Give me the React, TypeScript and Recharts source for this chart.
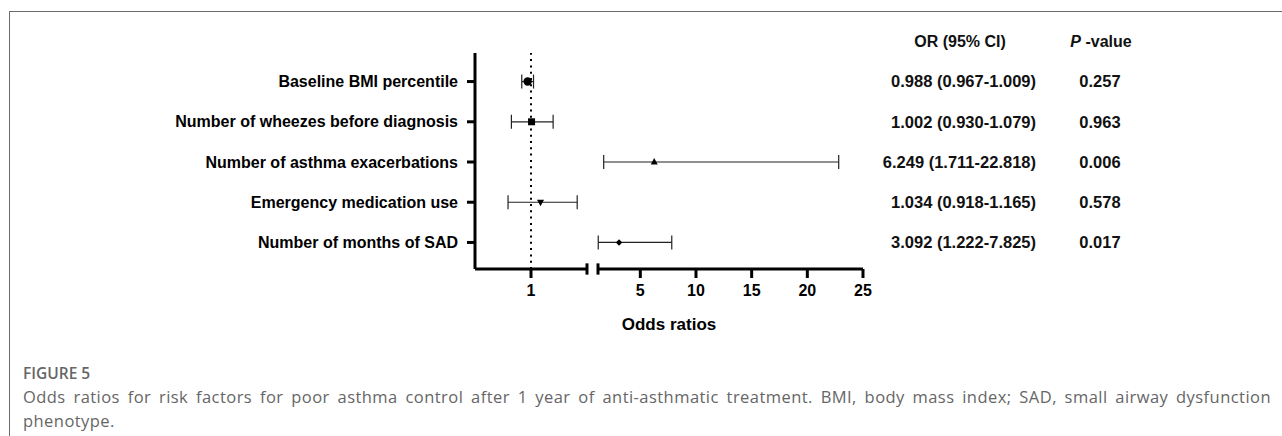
import {
  ErrorBar,
  ReferenceLine,
  Scatter,
  ScatterChart,
  XAxis,
  YAxis
} from "recharts";

const factors = [
  "Baseline BMI percentile",
  "Number of wheezes before diagnosis",
  "Number of asthma exacerbations",
  "Emergency medication use",
  "Number of months of SAD"
];
const oddsRatios = [0.988, 1.002, 6.249, 1.034, 3.092];
const ciLower = [0.967, 0.93, 1.711, 0.918, 1.222];
const ciUpper = [1.009, 1.079, 22.818, 1.165, 7.825];
const pValues = ["0.257", "0.963", "0.006", "0.578", "0.017"];
const markers = ["circle", "square", "triangle", "triangleDown", "diamond"];

const axisBreak = 1.2;
const lowDomain = [0.8, axisBreak];
const highDomain = [axisBreak, 25];
const lowTicks = [1];
const highTicks = [5, 10, 15, 20, 25];
const rowTicks = [1, 2, 3, 4, 5];
const rowDomain = [0.29, 5.66];

const font = "'Liberation Sans', Arial, sans-serif";
const captionFont = "'Open Sans', sans-serif";

type Row = {
  name: string;
  row: number;
  or: number;
  lo: number;
  hi: number;
  err: [number, number];
  marker: string;
  orText: string;
  p: string;
};

const rows: Row[] = factors.map((name, i) => ({
  name,
  row: i + 1,
  or: oddsRatios[i],
  lo: ciLower[i],
  hi: ciUpper[i],
  err: [oddsRatios[i] - ciLower[i], ciUpper[i] - oddsRatios[i]],
  marker: markers[i],
  orText: `${oddsRatios[i].toFixed(3)} (${ciLower[i].toFixed(3)}-${ciUpper[i].toFixed(3)})`,
  p: pValues[i]
}));

// points whose CI sits left or right of the axis break
const lowRows = rows.filter((r) => r.hi <= axisBreak);
const highRows = rows.filter((r) => r.lo >= axisBreak);

function Marker(props: any) {
  const { cx, cy, payload } = props;
  if (cx == null || cy == null) return null;
  switch (payload.marker) {
    case "square":
      return <rect x={cx - 3.5} y={cy - 3.5} width={7} height={7} fill="#000" />;
    case "triangle":
      return (
        <path
          d={`M${cx},${cy - 4} L${cx + 3.5},${cy + 2.5} L${cx - 3.5},${cy + 2.5} Z`}
          fill="#000"
        />
      );
    case "triangleDown":
      return (
        <path
          d={`M${cx},${cy + 4} L${cx + 3.5},${cy - 2.5} L${cx - 3.5},${cy - 2.5} Z`}
          fill="#000"
        />
      );
    case "diamond":
      return (
        <path
          d={`M${cx},${cy - 3.2} L${cx + 3.2},${cy} L${cx},${cy + 3.2} L${cx - 3.2},${cy} Z`}
          fill="#000"
        />
      );
    default:
      return <circle cx={cx} cy={cy} r={4.2} fill="#000" />;
  }
}

function TableTick(props: any) {
  const { x, y, payload } = props;
  const row = rows[payload.value - 1];
  if (!row) return null;
  return (
    <g fontFamily={font} fontWeight={700} fontSize={16.5} fill="#111">
      <text x={x + 173} y={y} dy="0.355em" textAnchor="end">
        {row.orText}
      </text>
      <text x={x + 237} y={y} dy="0.355em" textAnchor="middle">
        {row.p}
      </text>
    </g>
  );
}

const axisStroke = { stroke: "#000", strokeWidth: 3 };
const tickText = { fill: "#000", fontSize: 16, fontWeight: 700, fontFamily: font };
const capHalf = 0.14;

export default function App() {
  return (
    <div
      style={{
        position: "absolute",
        left: 0,
        top: 0,
        width: 1282,
        height: 436,
        overflow: "hidden",
        background: "#fff"
      }}
    >
      <div
        style={{
          position: "absolute",
          left: 9,
          top: 11,
          width: 1400,
          height: 500,
          borderTop: "1px solid #6b6b6b",
          borderLeft: "1px solid #6b6b6b"
        }}
      />

      <div style={{ position: "absolute", left: 0, top: 0 }}>
        <ScatterChart
          width={595}
          height={345}
          margin={{ top: 53, right: 8, bottom: 36, left: 0 }}
        >
          <XAxis
            type="number"
            dataKey="or"
            domain={lowDomain}
            ticks={lowTicks}
            allowDataOverflow
            interval={0}
            height={40}
            tickSize={9}
            tickMargin={7}
            axisLine={axisStroke}
            tickLine={axisStroke}
            tick={tickText}
          />
          <YAxis
            type="number"
            dataKey="row"
            domain={rowDomain}
            ticks={rowTicks}
            reversed
            allowDataOverflow
            interval={0}
            width={475}
            tickSize={8}
            tickMargin={9}
            axisLine={axisStroke}
            tickLine={axisStroke}
            tick={tickText}
            tickFormatter={(v: number) => factors[v - 1] ?? ""}
          />
          <ReferenceLine
            x={1}
            stroke="#000"
            strokeWidth={2}
            strokeDasharray="2 4.3"
          />
          <ReferenceLine
            segment={[
              { x: axisBreak, y: rowDomain[1] - capHalf },
              { x: axisBreak, y: rowDomain[1] + capHalf }
            ]}
            ifOverflow="visible"
            stroke="#000"
            strokeWidth={3}
          />
          <Scatter
            data={lowRows}
            fill="#000"
            shape={Marker}
            isAnimationActive={false}
          >
            <ErrorBar
              dataKey="err"
              direction="x"
              width={7}
              stroke="#222"
              strokeWidth={1.2}
              isAnimationActive={false}
            />
          </Scatter>
        </ScatterChart>
      </div>

      <div style={{ position: "absolute", left: 590, top: 0 }}>
        <ScatterChart
          width={610}
          height={345}
          margin={{ top: 53, right: 0, bottom: 36, left: 8 }}
        >
          <XAxis
            type="number"
            dataKey="or"
            domain={highDomain}
            ticks={highTicks}
            allowDataOverflow
            interval={0}
            height={40}
            tickSize={9}
            tickMargin={7}
            axisLine={axisStroke}
            tickLine={axisStroke}
            tick={tickText}
          />
          <YAxis
            type="number"
            dataKey="row"
            orientation="right"
            domain={rowDomain}
            ticks={rowTicks}
            reversed
            allowDataOverflow
            interval={0}
            width={337}
            tickSize={0}
            tickMargin={0}
            axisLine={false}
            tickLine={false}
            tick={<TableTick />}
          />
          <ReferenceLine
            segment={[
              { x: axisBreak, y: rowDomain[1] - capHalf },
              { x: axisBreak, y: rowDomain[1] + capHalf }
            ]}
            ifOverflow="visible"
            stroke="#000"
            strokeWidth={3}
          />
          <Scatter
            data={highRows}
            fill="#000"
            shape={Marker}
            isAnimationActive={false}
          >
            <ErrorBar
              dataKey="err"
              direction="x"
              width={7}
              stroke="#222"
              strokeWidth={1.2}
              isAnimationActive={false}
            />
          </Scatter>
        </ScatterChart>
      </div>

      <div
        style={{
          position: "absolute",
          left: 860,
          top: 33,
          width: 200,
          textAlign: "center",
          fontFamily: font,
          fontWeight: 700,
          fontSize: 16,
          color: "#111"
        }}
      >
        OR (95% CI)
      </div>
      <div
        style={{
          position: "absolute",
          left: 1050,
          top: 33,
          width: 102,
          textAlign: "center",
          fontFamily: font,
          fontWeight: 700,
          fontSize: 16,
          color: "#111"
        }}
      >
        <span style={{ fontStyle: "italic" }}>P</span> -value
      </div>
      <div
        style={{
          position: "absolute",
          left: 569,
          top: 315,
          width: 200,
          textAlign: "center",
          fontFamily: font,
          fontWeight: 700,
          fontSize: 17,
          color: "#000"
        }}
      >
        Odds ratios
      </div>

      <div
        style={{
          position: "absolute",
          left: 23,
          top: 362,
          fontFamily: captionFont,
          fontWeight: 600,
          fontSize: 15.5,
          color: "#666"
        }}
      >
        FIGURE 5
      </div>
      <div
        style={{
          position: "absolute",
          left: 23,
          top: 385,
          width: 1248,
          fontFamily: captionFont,
          fontSize: 16.5,
          letterSpacing: 0.45,
          lineHeight: "24px",
          color: "#666",
          textAlign: "justify",
          textAlignLast: "justify",
          whiteSpace: "nowrap"
        }}
      >
        Odds ratios for risk factors for poor asthma control after 1 year of
        anti-asthmatic treatment. BMI, body mass index; SAD, small airway
        dysfunction
      </div>
      <div
        style={{
          position: "absolute",
          left: 23,
          top: 409,
          fontFamily: captionFont,
          fontSize: 16.5,
          letterSpacing: 0.45,
          lineHeight: "24px",
          color: "#666"
        }}
      >
        phenotype.
      </div>
    </div>
  );
}
